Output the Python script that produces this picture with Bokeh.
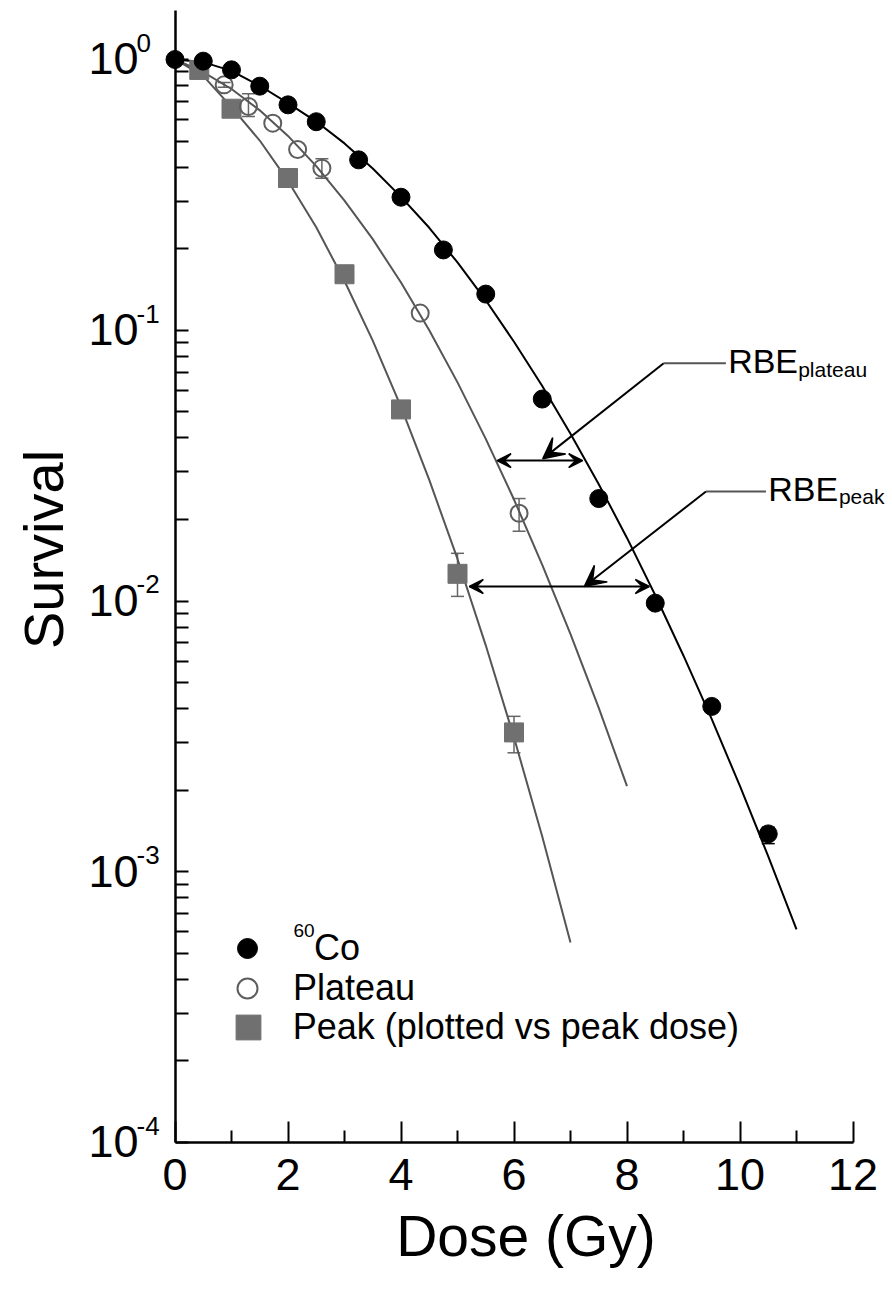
from math import pi
from bokeh.plotting import figure
from bokeh.models import (ColumnDataSource, FixedTicker, Label, Arrow, VeeHead, Whisker,
                          TeeHead, Legend, LegendItem, CustomJSTickFormatter, Range1d,
                          LinearAxis, LogAxis)
from bokeh.embed import file_html
from bokeh.resources import INLINE

FONT = "Liberation Sans"

# ---------------- data ----------------
# 60Co reference radiation
co_dose = [0.0, 0.5, 1.0, 1.5, 2.0, 2.5, 3.25, 4.0, 4.75, 5.5, 6.5, 7.5, 8.5, 9.5, 10.5]
co_surv = [1.0, 0.986, 0.916, 0.797, 0.680, 0.589, 0.426, 0.310, 0.198, 0.136,
           0.0557, 0.0239, 0.00982, 0.00408, 0.00138]
co_err_dose = [10.5]
co_err_lo = [0.00127]
co_err_hi = [0.00146]

# plateau
plateau_dose = [0.87, 1.30, 1.73, 2.17, 2.60, 4.34, 6.09]
plateau_surv = [0.806, 0.671, 0.582, 0.465, 0.397, 0.1157, 0.0211]
plateau_err_dose = [0.87, 1.30, 2.60, 6.09]
plateau_err_lo = [0.790, 0.616, 0.364, 0.0181]
plateau_err_hi = [0.823, 0.747, 0.430, 0.0239]

# peak (plotted vs peak dose)
peak_dose = [0.43, 1.0, 2.0, 3.0, 4.0, 5.0, 6.0]
peak_surv = [0.915, 0.658, 0.365, 0.161, 0.0510, 0.0126, 0.00327]
peak_err_dose = [5.0, 6.0]
peak_err_lo = [0.0104, 0.00275]
peak_err_hi = [0.0150, 0.00375]

# fitted curves
fit_co_dose = [0.0, 0.5, 1.0, 1.5, 2.0, 2.5, 3.0, 3.5, 4.0, 4.5, 5.0, 5.5, 6.0, 6.5,
               7.0, 7.5, 8.0, 8.5, 9.0, 9.5, 10.0, 10.5, 11.0]
fit_co_surv = [1.0, 0.978, 0.908, 0.800, 0.690, 0.590, 0.490, 0.396, 0.311, 0.239,
               0.178, 0.129, 0.0907, 0.0622, 0.0415, 0.0270, 0.0171, 0.0105, 0.00628,
               0.00366, 0.00207, 0.00114, 0.000613]

fit_plateau_dose = [0.0, 0.5, 1.0, 1.5, 2.0, 2.5, 3.0, 3.5, 4.0, 4.5, 5.0, 5.5, 6.0,
                    6.5, 7.0, 7.5, 8.0]
fit_plateau_surv = [1.0, 0.899, 0.778, 0.649, 0.522, 0.404, 0.301, 0.217, 0.150, 0.100,
                    0.0642, 0.0397, 0.0237, 0.0136, 0.00754, 0.00403, 0.00207]

fit_peak_dose = [0.0, 0.5, 1.0, 1.5, 2.0, 2.5, 3.0, 3.5, 4.0, 4.5, 5.0, 5.5, 6.0, 6.5, 7.0]
fit_peak_surv = [1.0, 0.870, 0.667, 0.502, 0.356, 0.240, 0.152, 0.0916, 0.0521, 0.0280,
                 0.0143, 0.00686, 0.00313, 0.00135, 0.000548]

# axes / labels
x_ticks = [0, 2, 4, 6, 8, 10, 12]
x_minor_ticks = [1, 3, 5, 7, 9, 11]
x_limits = (0, 12)
y_ticks = [1e-4, 1e-3, 1e-2, 1e-1, 1.0]
y_exponents = ["-4", "-3", "-2", "-1", "0"]
y_limits = (1e-4, 1.517)
x_title = "Dose (Gy)"
y_title = "Survival"
legend_labels = ["Co", "Plateau", "Peak (plotted vs peak dose)"]
legend_co_sup = "60"

# RBE annotations (data units)
rbe_plateau_arrow = dict(x0=5.70, x1=7.216, y=0.0330)
rbe_peak_arrow = dict(x0=5.209, x1=8.395, y=0.01131)
rbe_plateau_pointer = dict(tip=(6.508, 0.0335), corner=(8.65, 0.0755), end=(9.75, 0.0755))
rbe_peak_pointer = dict(tip=(7.244, 0.01131), corner=(9.398, 0.02538), end=(10.46, 0.02538))
rbe_plateau_text = dict(main=(9.79, 0.0690), sub=(11.03, 0.0668), sub_text="plateau")
rbe_peak_text = dict(main=(10.50, 0.02331), sub=(11.75, 0.02272), sub_text="peak")

# ---------------- layout constants (pixels) ----------------
W, H = 888, 1291
X0_PX = 174.5          # pixel column of dose 0
PX_PER_GY = 56.5
Y0_PX = 59.0           # pixel row of survival 1
PX_PER_DECADE = 270.75
BASE_FIX = 0.37        # em shift that puts an "alphabetic" label on its true baseline

BLACK = "#000000"
CURVE_GRAY = "#555555"
CIRCLE_GRAY = "#5e5e5e"
SQUARE_GRAY = "#707070"
ERR_GRAY = "#666666"

p = figure(width=W, height=H,
           x_range=Range1d(-X0_PX / PX_PER_GY, (W - X0_PX) / PX_PER_GY),
           y_range=Range1d(10 ** (-(H - Y0_PX) / PX_PER_DECADE), 10 ** (Y0_PX / PX_PER_DECADE)),
           y_axis_type="log", x_axis_location=None, y_axis_location=None,
           output_backend="svg", toolbar_location=None, min_border=0)
p.outline_line_color = None
p.background_fill_color = "white"
p.border_fill_color = "white"
p.grid.visible = False

# x axis (drawn at survival = 1e-4)
xa = LinearAxis(fixed_location=y_limits[0], bounds=x_limits,
                ticker=FixedTicker(ticks=x_ticks, minor_ticks=x_minor_ticks))
xa.axis_line_width = 2.5
xa.axis_line_color = BLACK
xa.major_tick_line_width = 2
xa.minor_tick_line_width = 2
xa.major_tick_line_color = BLACK
xa.minor_tick_line_color = BLACK
xa.major_tick_in = 21
xa.major_tick_out = 0
xa.minor_tick_in = 12
xa.minor_tick_out = 0
xa.major_label_text_font = FONT
xa.major_label_text_font_size = "45px"
xa.major_label_text_color = BLACK
xa.major_label_standoff = 16
p.add_layout(xa, "below")

# y axis (drawn at dose = 0)
ya = LogAxis(fixed_location=x_limits[0], bounds=y_limits,
             ticker=FixedTicker(ticks=y_ticks,
                                minor_ticks=[m * t for t in y_ticks[:-1] for m in range(2, 10)]),
             formatter=CustomJSTickFormatter(code="return ''"))
ya.axis_line_width = 2.5
ya.axis_line_color = BLACK
ya.major_tick_line_width = 2
ya.minor_tick_line_width = 2
ya.major_tick_line_color = BLACK
ya.minor_tick_line_color = BLACK
ya.major_tick_in = 13
ya.major_tick_out = 0
ya.minor_tick_in = 13
ya.minor_tick_out = 0
ya.major_label_text_font_size = "0px"
p.add_layout(ya, "left")


def text(x, y, s, size, dx=0.0, dy=0.0, align="left", angle=0.0):
    """Label whose (dx, dy) pixel offset is measured to the text baseline (dy up)."""
    fix = BASE_FIX * size
    if angle:
        dx -= fix
    else:
        dy += fix
    p.add_layout(Label(x=x, y=y, x_offset=dx, y_offset=dy, text=s, angle=angle,
                       text_align=align, text_baseline="alphabetic", text_font=FONT,
                       text_font_size=f"{size}px", text_color=BLACK))


# y tick labels with superscript exponents
for t, e in zip(y_ticks, y_exponents):
    text(0, t, "10", 45, dx=-36.5, dy=-16, align="right")
    text(0, t, e, 26, dx=-38.5, dy=7)

# axis titles
text(0, 10 ** ((Y0_PX - 549) / PX_PER_DECADE), y_title, 56, dx=-110.5, align="center",
     angle=pi / 2)
text(0, y_limits[0], x_title, 57, dx=351, dy=-115, align="center")

# error bars
def whisker(xs, lo, hi, color):
    src = ColumnDataSource(dict(base=xs, lower=lo, upper=hi))
    w = Whisker(source=src, base="base", lower="lower", upper="upper", dimension="height",
                line_color=color, line_width=1.5,
                upper_head=TeeHead(size=13, line_color=color, line_width=1.5),
                lower_head=TeeHead(size=13, line_color=color, line_width=1.5))
    p.add_layout(w)

whisker(plateau_err_dose, plateau_err_lo, plateau_err_hi, ERR_GRAY)
whisker(peak_err_dose, peak_err_lo, peak_err_hi, ERR_GRAY)
whisker(co_err_dose, co_err_lo, co_err_hi, BLACK)

# fitted curves
p.line(fit_peak_dose, fit_peak_surv, line_color=CURVE_GRAY, line_width=2)
p.line(fit_plateau_dose, fit_plateau_surv, line_color=CURVE_GRAY, line_width=2)
p.line(fit_co_dose, fit_co_surv, line_color=BLACK, line_width=2)

# data points
r_pk = p.scatter(peak_dose, peak_surv, marker="square", size=19,
                 fill_color=SQUARE_GRAY, line_color=SQUARE_GRAY, line_width=1)
r_pl = p.scatter(plateau_dose, plateau_surv, marker="circle", size=17,
                 fill_color=None, line_color=CIRCLE_GRAY, line_width=2)
r_co = p.scatter(co_dose, co_surv, marker="circle", size=18,
                 fill_color=BLACK, line_color=BLACK, line_width=1)

# RBE arrows
def head(size):
    return VeeHead(size=size, fill_color=BLACK, line_color=BLACK, line_width=1.5)

for a in (rbe_plateau_arrow, rbe_peak_arrow):
    p.add_layout(Arrow(x_start=a["x0"], y_start=a["y"], x_end=a["x1"], y_end=a["y"],
                       start=head(14), end=head(14), line_color=BLACK, line_width=2))

for ptr in (rbe_plateau_pointer, rbe_peak_pointer):
    (tx, ty), (cx, cy), (ex, ey) = ptr["tip"], ptr["corner"], ptr["end"]
    p.add_layout(Arrow(x_start=cx, y_start=cy, x_end=tx, y_end=ty, end=head(21),
                       line_color=BLACK, line_width=2))
    p.add_layout(Arrow(x_start=cx, y_start=cy, x_end=ex, y_end=ey, end=None,
                       line_color=CURVE_GRAY, line_width=2))

for t in (rbe_plateau_text, rbe_peak_text):
    (mx, my), (sx, sy) = t["main"], t["sub"]
    text(mx, my, "RBE", 34)
    text(sx, sy, t["sub_text"], 21)

# legend (one Legend per row so each key can be sized like the original)
def legend(label, renderer, loc, glyph, standoff):
    lg = Legend(items=[LegendItem(label=label, renderers=[renderer])], location=loc,
                glyph_width=glyph, glyph_height=glyph, label_standoff=standoff,
                padding=0, margin=0, spacing=0, border_line_color=None,
                background_fill_alpha=0, label_text_font=FONT,
                label_text_font_size="36px", label_text_color=BLACK)
    p.add_layout(lg, "center")

legend(legend_labels[0], r_co, (222, H - 973.3), 50, 42)
legend(legend_labels[1], r_pl, (222, H - 1013), 50, 21)
legend(legend_labels[2], r_pk, (216.7, H - 1057.7), 62, 14)
text(0, y_limits[0], legend_co_sup, 19, dx=118.5, dy=204.7)

open("out.html", "w").write(file_html(p, INLINE))
